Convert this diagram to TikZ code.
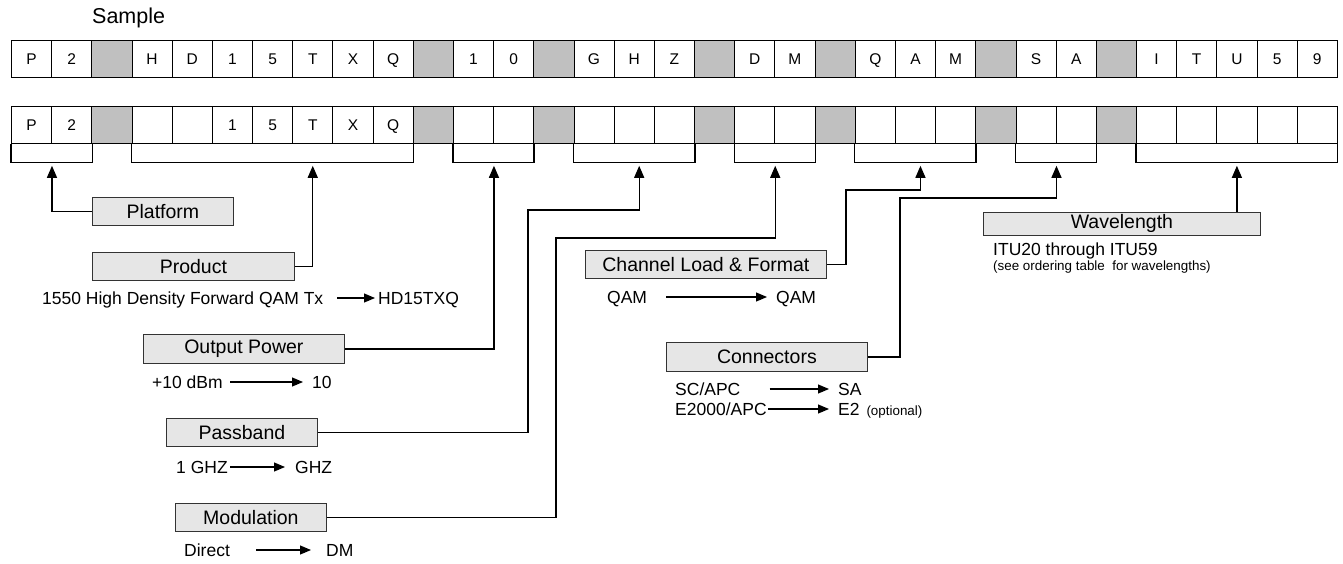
\documentclass[tikz,border=0pt]{standalone}
\usepackage{fontspec}
\setmainfont{Liberation Sans}
\usetikzlibrary{arrows.meta, positioning}

\definecolor{gapgray}{HTML}{C0C0C0}
\definecolor{fieldgray}{HTML}{E6E6E6}

\begin{document}
\begin{tikzpicture}[
    x=1pt, y=-1pt,
    cell/.style={rectangle, draw=black, line width=0.8pt, fill=white, minimum width=40.18pt, minimum height=37pt, inner sep=0pt, text height=11pt, text depth=0pt, anchor=north west, font=\fontsize{15.5}{17}\selectfont},
    gapcell/.style={cell, fill=gapgray},
    field/.style={rectangle, draw=black!80, line width=0.8pt, fill=fieldgray, minimum height=28pt, inner sep=0pt, anchor=north west, font=\fontsize{19.5}{22}\selectfont},
    desc/.style={inner sep=0pt, anchor=west, text height=12.5pt, text depth=0pt, font=\fontsize{17.5}{20}\selectfont},
    note/.style={inner sep=0pt, anchor=west, text height=9.6pt, text depth=0pt, font=\fontsize{13.4}{15}\selectfont},
    bracket/.style={draw=black, line width=1.3pt},
    line/.style={draw=black, line width=1.3pt, -{Triangle[length=12pt, width=10pt]}},
    lead/.style={draw=black, line width=1.1pt, -{Triangle[length=11pt, width=9pt]}}
]
    \useasboundingbox (0,0) rectangle (1343,563);

    % --- Sample code ---
    \node[anchor=base west, inner sep=0pt, font=\fontsize{21.5}{24}\selectfont] (sample) at (92,23) {Sample};
    \foreach \ch [count=\i from 0] in {P,2,*,H,D,1,5,T,X,Q,*,1,0,*,G,H,Z,*,D,M,*,Q,A,M,*,S,A,*,I,T,U,5,9}{
        \if\ch*
            \node[gapcell] (s\i) at ({11+40.18*\i},40) {};
        \else
            \node[cell] (s\i) at ({11+40.18*\i},40) {\ch};
        \fi
    }

    % --- Code template ---
    \foreach \ch [count=\i from 0] in {P,2,*,-,-,1,5,T,X,Q,*,-,-,*,-,-,-,*,-,-,*,-,-,-,*,-,-,*,-,-,-,-,-}{
        \if\ch*
            \node[gapcell] (c\i) at ({11+40.18*\i},106) {};
        \else\if\ch-
            \node[cell] (c\i) at ({11+40.18*\i},106) {};
        \else
            \node[cell] (c\i) at ({11+40.18*\i},106) {\ch};
        \fi\fi
    }

    % Brackets under the groups
    \foreach \a/\b in {0/1, 3/9, 11/12, 14/16, 18/19, 21/23, 25/26, 28/32}
        \draw[bracket] (c\a.south west) -- ++(0,19) -| (c\b.south east);

    % Arrow tips and bends
    \coordinate[below=22pt of c0.south east] (platformtip);
    \coordinate[below=22pt of c7] (producttip);
    \coordinate[below=22pt of c11.south east] (powertip);
    \coordinate[below=22pt of c15, xshift=5pt] (passtip);
    \coordinate[below=22pt of c18.south east] (modtip);
    \coordinate[below=22pt of c22, xshift=5pt] (formattip);
    \coordinate[below=22pt of c25.south east] (conntip);
    \coordinate[below=22pt of c30] (wavetip);
    \coordinate (passbend) at (528,210);
    \coordinate (modbend) at (556,238);
    \coordinate (formatbend) at (846,190);
    \coordinate (connbend) at (900,198);

    % --- Fields ---
    \node[field, minimum width=141pt] (platform) at (92,197) {Platform};
    \node[field, minimum width=202pt] (product) at (92,252) {Product};
    \node[field, minimum width=201pt, minimum height=29pt] (power) at (143,334) {Output Power};
    \node[field, minimum width=151pt] (passband) at (166,418) {Passband};
    \node[field, minimum width=151pt] (modulation) at (175,503) {Modulation};
    \node[field, minimum width=241pt] (format) at (585,250) {Channel Load \& Format};
    \node[field, minimum width=201pt, minimum height=29pt] (connectors) at (666,342) {Connectors};
    \node[field, minimum width=277pt, minimum height=23pt] (wavelength) at (983,212) {Wavelength};

    % --- Connections ---
    \draw[line] (platform.west) -| (platformtip);
    \draw[line] (product.east) -| (producttip);
    \draw[line] (power.east) -| (powertip);
    \draw[line] (passband.east) -| (passbend) -| (passtip);
    \draw[line] (modulation.east) -| (modbend) -| (modtip);
    \draw[line] (format.east) -| (formatbend) -| (formattip);
    \draw[line] (connectors.east) -| (connbend) -| (conntip);
    \draw[line] (wavetip |- wavelength.north) -- (wavetip);

    % --- Values ---
    \node[desc] (productin) at (42,298) {1550 High Density Forward QAM Tx};
    \node[desc] (productout) at (378,298) {HD15TXQ};
    \draw[lead, shorten <=14pt, shorten >=3pt] (productin.east) -- (productout.west);

    \node[desc] (powerin) at (152,382) {+10 dBm};
    \node[desc] (powerout) at (312,382) {10};
    \draw[lead, shorten <=7.5pt, shorten >=9pt] (powerin.east) -- (powerout.west);

    \node[desc] (passin) at (176,467) {1 GHZ};
    \node[desc] (passout) at (295,467) {GHZ};
    \draw[lead, shorten <=2.5pt, shorten >=10pt] (passin.east) -- (passout.west);

    \node[desc] (modin) at (184,550) {Direct};
    \node[desc] (modout) at (326,550) {DM};
    \draw[lead, shorten <=26pt, shorten >=15pt] (modin.east) -- (modout.west);

    \node[desc] (formatin) at (607,297) {QAM};
    \node[desc] (formatout) at (776,297) {QAM};
    \draw[lead, shorten <=19pt, shorten >=9pt] (formatin.east) -- (formatout.west);

    \node[desc] (scin) at (675,389) {SC/APC};
    \node[desc] (scout) at (838,389) {SA};
    \draw[lead, shorten <=29pt, shorten >=9pt] (scin.east) -- (scout.west);

    \node[desc] (e2in) at (675,409) {E2000/APC};
    \node[desc] (e2out) at (838,409) {E2};
    \draw[lead, shorten <=1.6pt, shorten >=9pt] (e2in.east) -- (e2out.west);
    \node[note, anchor=base west] (optional) at ([xshift=6.5pt]e2out.base east) {(optional)};

    \node[desc] (itu) at (993,249) {ITU20 through ITU59};
    \node[note] (itunote) at (993,266) {(see ordering table~ for wavelengths)};

\end{tikzpicture}
\end{document}
